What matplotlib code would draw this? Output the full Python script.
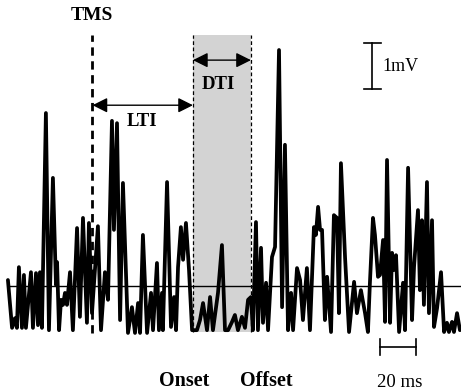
import numpy as np
import matplotlib.pyplot as plt

plt.rcParams['font.family'] = ['Liberation Serif', 'DejaVu Serif']

# tempo em ms (TMS em 0) e amplitude do EMG em mV
tempo = [-46.7, -44.4, -42.8, -41.7, -40.6, -38.9, -37.8, -36.7, -33.9, -32.8,
         -31.1, -30.0, -28.9, -27.8, -25.6, -23.9, -21.7, -20.0, -19.4, -18.3,
         -17.2, -16.1, -15.0, -13.9, -12.2, -10.6, -8.3, -6.7, -5.0, -2.8,
         -1.7, 0.0, 3.3, 5.0, 7.2, 8.9, 11.1, 12.2, 13.9, 15.6,
         17.2, 20.0, 22.2, 23.9, 25.6, 26.7, 28.3, 30.6, 32.8, 33.9,
         36.1, 37.2, 38.9, 39.4, 41.7, 43.9, 45.6, 46.7, 47.8, 49.4,
         50.6, 52.2, 53.9, 55.6, 58.3, 60.0, 61.7, 63.9, 65.6, 67.2,
         68.9, 70.0, 72.2, 73.9, 75.6, 77.8, 79.4, 81.1, 83.3, 85.0,
         86.7, 88.3, 89.4, 91.1, 92.2, 93.9, 95.0, 96.7, 97.8, 100.0,
         101.7, 103.9, 105.6, 107.2, 108.9, 110.6, 111.7, 113.9, 115.6, 117.2,
         119.4, 121.1, 123.3, 124.4, 125.6, 126.7, 127.8, 129.4, 130.6, 132.8,
         134.4, 136.1, 137.2, 138.3, 140.6, 142.8, 145.6, 147.2, 149.4, 151.7,
         153.3, 154.4, 156.1, 157.2, 158.9, 160.0, 161.7, 162.8, 163.9, 165.6,
         166.7, 167.8, 168.9, 170.6, 172.8, 173.9, 175.6, 177.8, 178.9, 181.1,
         182.2, 183.3, 184.4, 186.1, 187.2, 188.9, 190.0, 191.7, 193.9, 195.6,
         197.2, 198.3, 200.0, 201.1, 202.8, 204.4]
emg = [0.13, -0.91, -0.70, -0.91, 0.41, -0.91, 0.24, -0.91, 0.30, -0.91,
       0.28, -0.85, 0.30, -0.91, 3.76, -0.96, 2.35, 0.02, 0.52, -0.96,
       -0.30, -0.41, -0.15, -0.41, 0.30, -0.96, 1.26, -0.67, 1.48, -0.80,
       1.37, -0.59, 1.30, -0.96, 0.30, -0.30, 3.59, 1.22, 3.54, -0.74,
       2.24, -1.02, -0.46, -1.02, -0.37, -1.02, 1.11, -1.02, -0.15, -0.96,
       0.50, -0.96, -0.15, -0.96, 2.26, -0.89, -0.24, -0.96, 0.41, 1.28,
       0.57, 1.37, 0.35, -0.96, -0.96, -0.74, -0.37, -0.96, -0.24, -0.96,
       -0.46, -0.15, 0.89, -0.96, -0.96, -0.78, -0.63, -0.96, -0.67, -0.91,
       -0.30, -0.24, -0.96, 1.39, -0.96, 0.83, -0.80, 0.07, -0.96, 0.63,
       0.85, 5.13, -0.46, 3.07, -0.96, -0.15, -0.96, 0.39, 0.13, -0.74,
       0.39, -0.96, 1.28, 1.11, 1.72, 1.22, 1.22, -0.74, 0.20, -1.00,
       1.54, 1.48, -0.59, 2.67, 0.61, -1.00, 0.09, -0.59, -0.09, -0.59,
       -1.00, 0.07, 1.48, 1.11, 0.20, 0.24, 1.00, -0.78, 2.74, -0.80,
       0.72, 0.35, 0.67, -1.00, 0.07, -0.96, 2.57, -0.74, 0.41, 1.65,
       -0.09, 1.43, -0.41, 2.26, -0.59, 1.43, -0.89, -0.48, 0.30, -1.00,
       -0.80, -1.00, -0.78, -1.00, -0.59, -0.96]

# inicio e fim do silencio (DTI)
onset = 56.1
offset = 88.3

fig = plt.figure(figsize=(4.61, 3.92), dpi=100)
ax = fig.add_axes([0, 0, 1, 1])
ax.set_xlim(-51.1, 205.0)
ax.set_ylim(-2.304, 6.217)
ax.axis('off')

# faixa cinza do periodo de silencio
ax.fill_between([onset, offset], -1.0, 5.46, color='#d3d3d3', lw=0, zorder=0)
for x in [onset, offset]:
    ax.plot([x, x], [-1.0, 5.46], color='black', lw=0.9, ls=(0, (3, 2)), zorder=1)

# linha de base
ax.plot([tempo[0], tempo[-1]], [0, 0], color='black', lw=1.0, zorder=2)

# sinal EMG
ax.plot(tempo, emg, color='black', lw=2.7, solid_joinstyle='round',
        solid_capstyle='round', zorder=3)

# pulso TMS
ax.plot([0, 0], [-1.02, 5.46], color='black', lw=2.0, ls=(0, (3, 2)), zorder=4)
ax.text(0, 5.89, 'TMS', ha='center', va='center', fontsize=14, fontweight='bold')

# setas LTI e DTI
seta = dict(arrowstyle='<|-|>,head_length=0.6,head_width=0.3', color='black',
            lw=1.0, mutation_scale=15, shrinkA=0, shrinkB=0)
ax.annotate('', xy=(0.3, 3.93), xytext=(onset, 3.93), arrowprops=seta)
ax.text(27.8, 3.57, 'LTI', ha='center', va='center', fontsize=13.5, fontweight='bold')
ax.annotate('', xy=(onset, 4.91), xytext=(offset, 4.91), arrowprops=seta)
ax.text(70.0, 4.37, 'DTI', ha='center', va='center', fontsize=13.5, fontweight='bold')

# escala de 1 mV
ax.plot([155.6, 155.6], [4.28, 5.28], color='black', lw=1.2)
ax.plot([150.9, 160.3], [4.28, 4.28], color='black', lw=1.2)
ax.plot([150.9, 160.3], [5.28, 5.28], color='black', lw=1.2)
ax.text(161.1, 4.78, '1mV', ha='left', va='center', fontsize=13)

# escala de 20 ms
ax.plot([160.0, 180.0], [-1.33, -1.33], color='black', lw=1.2)
ax.plot([160.0, 160.0], [-1.15, -1.5], color='black', lw=1.2)
ax.plot([180.0, 180.0], [-1.15, -1.5], color='black', lw=1.2)
ax.text(171.1, -2.09, '20 ms', ha='center', va='center', fontsize=13.5)

ax.text(51.4, -2.07, 'Onset', ha='center', va='center', fontsize=14.5, fontweight='bold')
ax.text(96.7, -2.07, 'Offset', ha='center', va='center', fontsize=14.5, fontweight='bold')

plt.savefig('out.png', dpi=100)
